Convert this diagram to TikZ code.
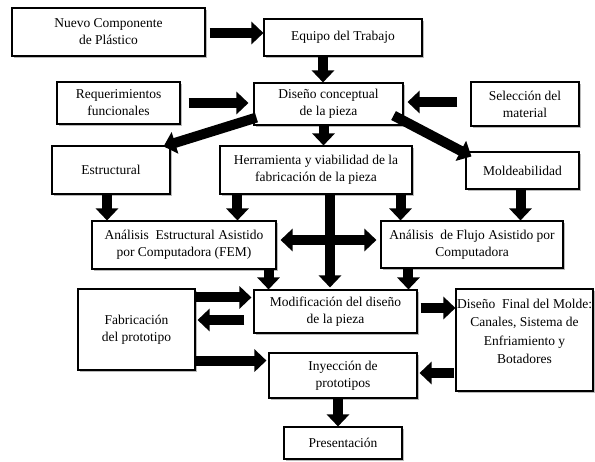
\documentclass[tikz,border=0pt]{standalone}
\usepackage{fontspec}
\setmainfont{Liberation Serif}
\usetikzlibrary{arrows.meta,shadows,calc}
\tikzset{
  box/.style={draw, line width=1.1pt, fill=white, align=center, inner sep=2pt,
    font=\fontsize{13.5}{17}\selectfont,
    drop shadow={shadow xshift=1.5pt, shadow yshift=-1.5pt, fill=black!45, opacity=0.6}},
  bigarrow/.style={line width=10pt, -{Triangle[width=22pt,length=12pt]}},
  bigdouble/.style={line width=10pt, {Triangle[width=22pt,length=12pt]}-{Triangle[width=22pt,length=12pt]}}
}
\begin{document}
\begin{tikzpicture}[x=1pt,y=-1pt]
\useasboundingbox (0,0) rectangle (595,461);
\fill[white] (0,0) rectangle (595,461);
% boxes
\node[box, minimum width=193pt, minimum height=48pt] (nuevo) at (108.5,32) {Nuevo Componente\\de Plástico};
\node[box, minimum width=158pt, minimum height=37pt] (equipo) at (343,37.5) {Equipo del Trabajo};
\node[box, minimum width=123pt, minimum height=42pt] (req) at (118.5,103) {Requerimientos\\funcionales};
\node[box, minimum width=149pt, minimum height=42pt] (diseno) at (328.5,104) {Diseño conceptual\\de la pieza};
\node[box, minimum width=108pt, minimum height=44pt] (sel) at (525,104) {Selección del\\material};
\node[box, minimum width=118pt, minimum height=48pt] (estr) at (111,170) {Estructural};
\node[box, minimum width=192pt, minimum height=48pt] (herr) at (316,170) {Herramienta y viabilidad de la\\fabricación de la pieza};
\node[box, minimum width=113pt, minimum height=37pt] (mold) at (522.5,170.5) {Moldeabilidad};
\node[box, minimum width=184pt, minimum height=48pt] (fem) at (184,245) {Análisis\ \ Estructural Asistido\\por Computadora (FEM)};
\node[box, minimum width=182pt, minimum height=47pt] (flujo) at (472,244.5) {Análisis\ \ de Flujo Asistido por\\Computadora};
\node[box, minimum width=117pt, minimum height=81pt] (fab) at (136.5,329.5) {Fabricación\\del prototipo};
\node[box, minimum width=163pt, minimum height=43pt] (modif) at (335.5,311.5) {Modificación del diseño\\de la pieza};
\node[box, minimum width=137pt, minimum height=102pt] (final) at (524.5,340) {};
\node[anchor=north, align=center, font=\fontsize{13.5}{18.5}\selectfont] (finaltxt) at ([yshift=-7pt]final.north) {Diseño\ \ Final del Molde:\\Canales, Sistema de\\Enfriamiento y\\Botadores};
\node[box, minimum width=148pt, minimum height=45pt] (iny) at (343,375.5) {Inyección de\\prototipos};
\node[box, minimum width=118pt, minimum height=32pt] (pres) at (343,443) {Presentación};
% arrows
\draw[bigarrow] ([xshift=4pt,yshift=-1pt]nuevo.east) -- ([yshift=-1pt]nuevo.east -| equipo.west);
\draw[bigarrow] ([xshift=-20pt]equipo.south) -- ([xshift=-20pt]equipo.south |- diseno.north);
\draw[bigarrow] ([xshift=8pt]req.east) -- ([xshift=-5pt]req.east -| diseno.west);
\draw[bigarrow] ([xshift=-13pt,yshift=2pt]sel.west) -- ([xshift=4pt,yshift=2pt]sel.west -| diseno.east);
\draw[bigarrow] ([xshift=3pt,yshift=8pt]diseno.south west) -- ([xshift=-7pt,yshift=-1pt]estr.north east);
\draw[bigarrow] ([xshift=-5pt]diseno.south) -- ([xshift=-5pt]diseno.south |- herr.north);
\draw[bigarrow] ([xshift=-10pt,yshift=10pt]diseno.south east) -- ([xshift=6pt,yshift=-5pt]mold.north west);
\draw[bigarrow] ([xshift=-4pt]estr.south) -- ([xshift=-4pt]estr.south |- fem.north);
\draw[bigarrow] ([xshift=18pt]herr.south west) -- ([xshift=18pt]herr.south west |- fem.north);
\draw[bigarrow] ([xshift=-12pt]herr.south east) -- ([xshift=-12pt]herr.south east |- flujo.north);
\draw[bigarrow] ([xshift=-2pt]mold.south) -- ([xshift=-2pt]mold.south |- flujo.north);
\draw[bigarrow] ([xshift=14pt]herr.south) -- ([xshift=14pt,yshift=2pt]herr.south |- modif.north);
\draw[bigdouble] ([xshift=4pt,yshift=5pt]fem.east) -- ([xshift=-4pt,yshift=5pt]fem.east -| flujo.west);
\draw[bigarrow] ([xshift=-8pt]fem.south east) -- ([xshift=-8pt]fem.south east |- modif.north);
\draw[bigarrow] ([xshift=28pt]flujo.south west) -- ([xshift=28pt]flujo.south west |- modif.north);
\draw[bigarrow] ([yshift=-9pt]fab.north east) -- ([xshift=-2pt,yshift=-9pt]fab.north east -| modif.west);
\draw[bigarrow] ([xshift=-9pt,yshift=-8.5pt]modif.west) -- ([xshift=2pt,yshift=-8.5pt]modif.west -| fab.east);
\draw[bigarrow] ([xshift=3pt,yshift=3.5pt]modif.east) -- ([yshift=3.5pt]modif.east -| final.west);
\draw[bigarrow] ([yshift=10pt]fab.south east) -- ([xshift=-2pt,yshift=10pt]fab.south east -| iny.west);
\draw[bigarrow] ([xshift=-1pt,yshift=2.5pt]final.west |- iny.east) -- ([xshift=2pt,yshift=2.5pt]iny.east);
\draw[bigarrow] ([xshift=-5pt]iny.south) -- ([xshift=-5pt]iny.south |- pres.north);
\end{tikzpicture}
\end{document}
